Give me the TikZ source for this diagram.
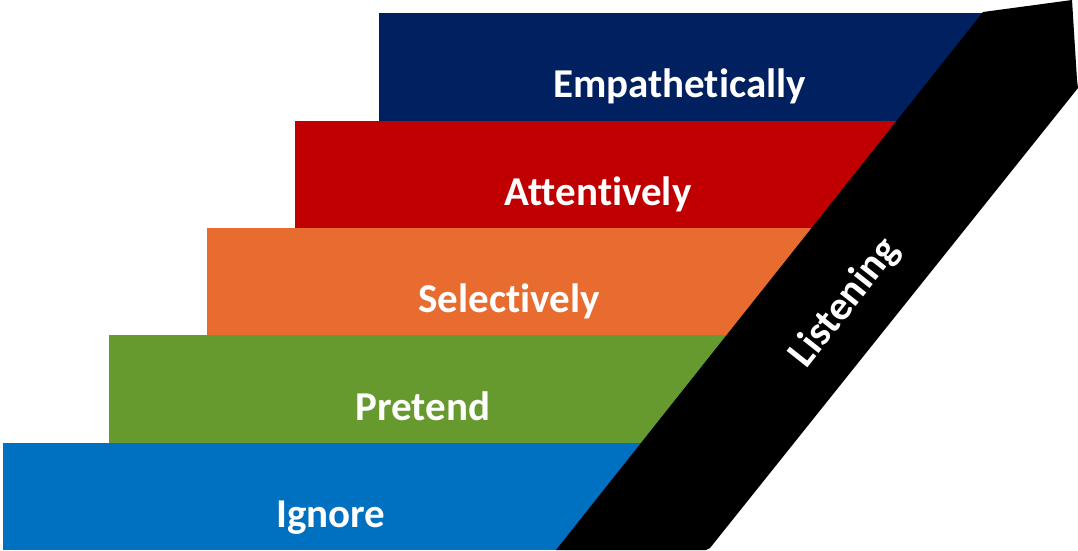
\documentclass[tikz,border=0pt]{standalone}
\usepackage{fontspec}
\setmainfont{Carlito}[RawFeature={-liga;-clig;-dlig}]
\definecolor{navybar}{HTML}{002060}
\definecolor{redbar}{HTML}{C00000}
\definecolor{orangebar}{HTML}{E86B30}
\definecolor{greenbar}{HTML}{669A2E}
\definecolor{bluebar}{HTML}{0070C0}
\begin{document}
\begin{tikzpicture}[x=1pt,y=-1pt,
  stair/.style={fill=#1, draw=none},
  labelfont/.style={text=white, font=\bfseries\fontsize{41}{41}\selectfont, inner sep=0pt},
  steplabel/.style={labelfont, anchor=base}]
\useasboundingbox (0,0) rectangle (1078,550);
% steps, bottom to top
\fill[stair=bluebar]   (3,443)   rectangle (660,550);
\fill[stair=greenbar]  (109,335) rectangle (745,443);
\fill[stair=orangebar] (207,228) rectangle (830,335);
\fill[stair=redbar]    (295,121) rectangle (910,228);
\fill[stair=navybar]   (379,13)  rectangle (990,121);
% rising arrow band
\fill[black] (556,550) -- (983,12) -- (1072,0) -- (1077,80) -- (1078,88) -- (710,548) -- (706,550) -- cycle;
% step labels
\node[steplabel] (ignore)  at (331,527)   {Ignore};
\node[steplabel] (pretend) at (423,420)   {Pretend};
\node[steplabel] (select)  at (509,312.5) {Selectively};
\node[steplabel] (attent)  at (598,205)   {Attentively};
\node[steplabel] (empath)  at (679.5,97.7) {Empathetically};
\node[labelfont, rotate=51.6] (listen) at (845,303) {Listening};
\end{tikzpicture}
\end{document}
